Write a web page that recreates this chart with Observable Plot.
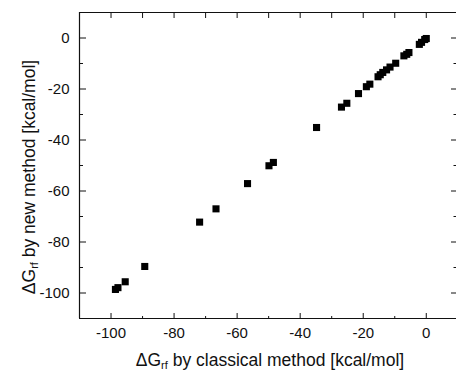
<!DOCTYPE html>
<html><head><meta charset="utf-8">
<script src="https://cdn.jsdelivr.net/npm/d3@7"></script>
<script src="https://cdn.jsdelivr.net/npm/@observablehq/plot@0.6"></script>
<style>body{margin:0;background:#fff} #chart svg{display:block}</style>
</head><body><div id="chart"></div>
<script>
const classical = [-98.6, -97.8, -95.5, -89.3, -71.9, -66.7, -56.7, -49.9, -48.5, -34.8, -26.9, -25.2, -21.5, -19.0, -17.9, -15.3, -14.6, -13.8, -12.6, -11.5, -9.7, -7.1, -6.2, -5.5, -2.2, -1.5, -0.5, 0];
const newMethod = [-98.6, -97.9, -95.6, -89.6, -72.2, -67.0, -57.1, -50.1, -48.8, -35.1, -27.1, -25.6, -21.8, -19.1, -18.1, -15.2, -14.4, -13.5, -12.5, -11.4, -9.9, -7.0, -6.4, -5.7, -2.5, -1.7, -0.6, -0.2];
const xMajor = [-100, -80, -60, -40, -20, 0];
const xMinor = [-90, -70, -50, -30, -10];
const xTop = [-100, -90, -80, -70, -60, -50, -40, -30, -20, -10, 0];
const yMajor = [0, -20, -40, -60, -80, -100];
const yMinor = [-10, -30, -50, -70, -90];
const xTitle = ["ΔG", "rf", " by classical method [kcal/mol]"];
const yTitle = ["ΔG", "rf", " by new method [kcal/mol]"];

const data = classical.map((c, i) => ({c, n: newMethod[i]}));
const ink = "#111";
const fmt = d => String(d);

const plot = Plot.plot({
  width: 456,
  height: 373,
  marginLeft: 79,
  marginRight: 0,
  marginTop: 12,
  marginBottom: 55,
  style: {fontFamily: "'Liberation Sans', Arial, sans-serif", color: ink, background: "#fff"},
  x: {domain: [-110, 10], range: [79, 457.3]},
  y: {domain: [-110, 10]},
  marks: [
    Plot.ruleX([-110], {stroke: ink, strokeWidth: 1.2}),
    Plot.ruleY([10, -110], {stroke: ink, strokeWidth: 1.2}),
    Plot.axisX(xMajor, {anchor: "bottom", tickSize: 0, tickPadding: 9, tickFormat: fmt, fontSize: 15, label: null, fill: ink}),
    Plot.axisX(xMajor, {anchor: "top", frameAnchor: "bottom", tickSize: 6, fill: "none", label: null, stroke: ink}),
    Plot.axisX(xMinor, {anchor: "top", frameAnchor: "bottom", tickSize: 3, fill: "none", label: null, stroke: ink}),
    Plot.axisX(xTop, {anchor: "bottom", frameAnchor: "top", tickSize: 6, fill: "none", label: null, stroke: ink}),
    Plot.axisY(yMajor, {anchor: "left", tickSize: 0, tickPadding: 10, tickFormat: fmt, fontSize: 15, label: null, fill: ink}),
    Plot.axisY(yMajor, {anchor: "right", frameAnchor: "left", tickSize: 6, fill: "none", label: null, stroke: ink}),
    Plot.axisY(yMinor, {anchor: "right", frameAnchor: "left", tickSize: 3, fill: "none", label: null, stroke: ink}),
    Plot.axisY(yMajor, {anchor: "left", frameAnchor: "right", tickSize: 5, fill: "none", label: null, stroke: ink}),
    Plot.axisY(yMinor, {anchor: "left", frameAnchor: "right", tickSize: 2.5, fill: "none", label: null, stroke: ink}),
    Plot.dot(data, {x: "c", y: "n", symbol: "square", r: 4, fill: "#000"})
  ]
});
document.getElementById("chart").appendChild(plot);

const svg = d3.select(plot);
function title(parts, g) {
  g.attr("font-size", 17.5).attr("fill", ink);
  g.append("tspan").text(parts[0]);
  g.append("tspan").attr("font-size", 11).attr("dy", 3).text(parts[1]);
  g.append("tspan").attr("dy", -3).text(parts[2]);
}
title(xTitle, svg.append("text").attr("x", 270).attr("y", 366).attr("text-anchor", "middle"));
title(yTitle, svg.append("text").attr("transform", "translate(35,177) rotate(-90)").attr("text-anchor", "middle"));
</script></body></html>
